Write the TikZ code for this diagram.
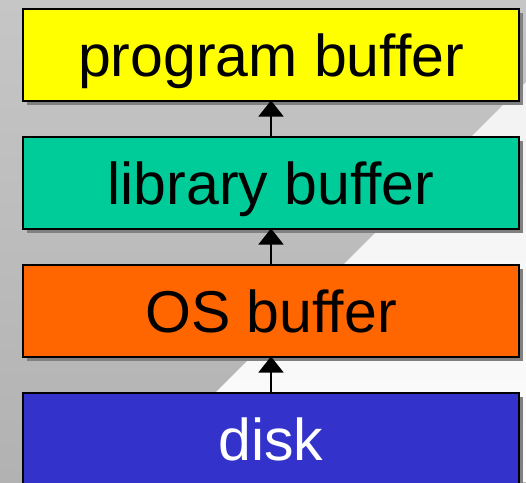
\documentclass[tikz,border=0pt]{standalone}
\usepackage{fontspec}
\setmainfont{Liberation Sans}
\usetikzlibrary{arrows.meta,shadows}
\definecolor{bgtop}{HTML}{C6C6C6}
\definecolor{bgbot}{HTML}{B2B2B2}
\definecolor{lttop}{HTML}{F2F2F2}
\definecolor{ltbot}{HTML}{FCFCFC}
\definecolor{shadowc}{HTML}{808080}
\definecolor{cyel}{HTML}{FFFF00}
\definecolor{cteal}{HTML}{00CC99}
\definecolor{corange}{HTML}{FF6600}
\definecolor{cblue}{HTML}{3333CC}
\tikzset{
  layerbox/.style={draw=black, line width=2pt, minimum width=496pt, minimum height=92pt,
    inner sep=0pt, outer sep=0pt,
    general shadow={shadow xshift=4pt, shadow yshift=-4pt, fill=shadowc, opacity=1}},
  layertext/.style={anchor=base, font=\fontsize{59}{61}\selectfont, inner sep=0pt},
  uparrow/.style={line width=1.6pt, -{Triangle[width=25pt,length=16pt]}}
}
\begin{document}
\begin{tikzpicture}[x=1pt,y=-1pt]
\useasboundingbox (0,0) rectangle (526,482);
\shade[top color=bgtop, bottom color=bgbot] (0,0) rectangle (526,482);
\shade[top color=lttop, bottom color=ltbot] (526,82) -- (526,482) -- (126,482) -- cycle;
\node[layerbox, fill=cyel] (prog) at (271,54.5) {};
\node[layerbox, fill=cteal] (lib) at (271,182.5) {};
\node[layerbox, fill=corange] (os) at (271,310.5) {};
\node[layerbox, fill=cblue] (disk) at (271,438.5) {};
\node[layertext] (progt) at ([yshift=-22pt]prog.center) {program buffer};
\node[layertext] (libt) at ([yshift=-22pt]lib.center) {library buffer};
\node[layertext] (ost) at ([yshift=-22pt]os.center) {OS buffer};
\node[layertext, text=white] (diskt) at ([yshift=-22pt]disk.center) {disk};
\draw[uparrow] (lib.north) -- (prog.south);
\draw[uparrow] (os.north) -- (lib.south);
\draw[uparrow] (disk.north) -- (os.south);
\end{tikzpicture}
\end{document}
